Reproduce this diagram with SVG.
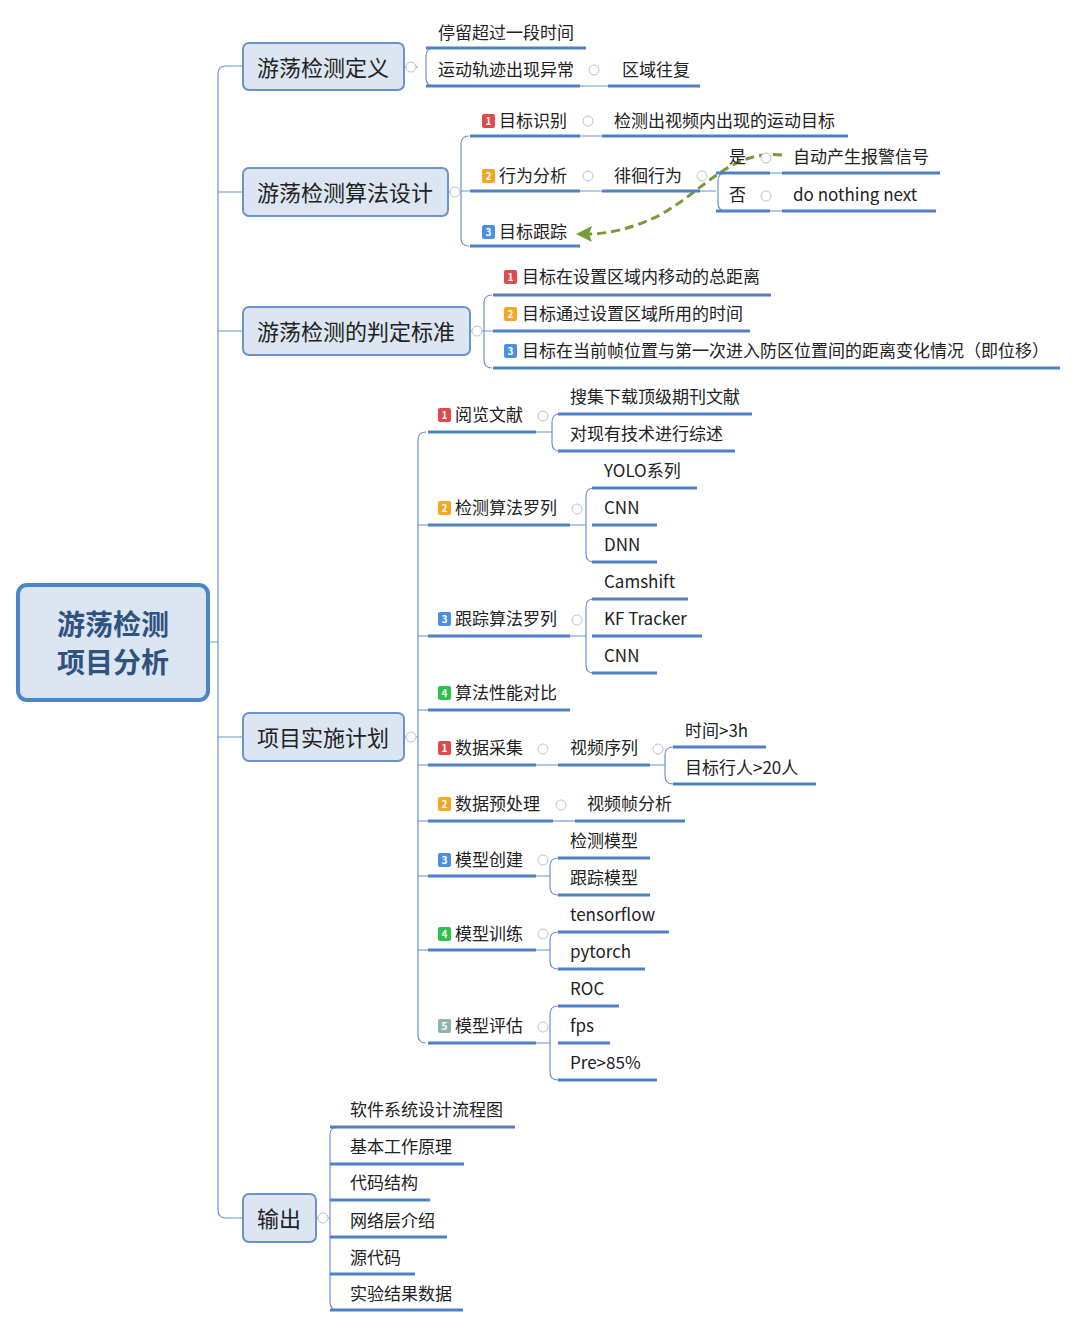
<svg xmlns="http://www.w3.org/2000/svg" width="1078" height="1328" viewBox="0 0 1078 1328">
<style>
text{font-family:"Noto Sans CJK SC","Liberation Sans",sans-serif;fill:#222;font-size:17px}
.m{font-size:22px;fill:#222}
.r{font-size:28px;font-weight:bold;fill:#2f5280}
.ul{stroke:#4d80c4;stroke-width:3;fill:none}
.ln{stroke:#6a93c9;stroke-width:1.2;fill:none}
.box{fill:#dce6f2;stroke:#6a93c9;stroke-width:2}
.c{fill:#fff;stroke:#b8c4d0;stroke-width:1}
.b text{font-size:10px;fill:#fff;font-weight:bold;text-anchor:middle}
</style>
<g id="connectors">
<path class="ln" d="M208,642 H218 M226,66 Q218,66 218,74 V1210 Q218,1218 226,1218 H243 M218,192 H243 M218,331 H243 M218,737 H243 M226,66 H243"/>
<path class="ln" d="M404,67 H418 M434,48 Q426,48 426,56 V78 Q426,86 434,86 M580,86 H608"/>
<path class="ln" d="M448,192 H461 M469,136 Q461,136 461,144 V238 Q461,246 469,246 M461,191 H470 M580,136 H602 M580,191 H602 M700,191 H716 M726,173 Q718,173 718,181 V203 Q718,211 726,211 M770,173 H782 M770,211 H782"/>
<path class="ln" d="M470,331 H484 M492,295 Q484,295 484,303 V360 Q484,368 492,368 M484,331 H493"/>
<path class="ln" d="M404,737 H418 M426,432 Q418,432 418,440 V1035 Q418,1043 426,1043"/>
<path class="ln" d="M418,525 H428 M418,636 H428 M418,710 H428 M418,765 H428 M418,821 H428 M418,876 H428 M418,950 H428"/>
<path class="ln" d="M536,432 H552 M560,414 Q552,414 552,422 V443 Q552,451 560,451"/>
<path class="ln" d="M570,525 H586 M594,488 Q586,488 586,496 V554 Q586,562 594,562"/>
<path class="ln" d="M570,636 H586 M594,599 Q586,599 586,607 V665 Q586,673 594,673"/>
<path class="ln" d="M536,765 H558 M650,765 H665 M673,747 Q665,747 665,755 V776 Q665,784 673,784"/>
<path class="ln" d="M553,821 H575"/>
<path class="ln" d="M536,876 H550 M558,858 Q550,858 550,866 V887 Q550,895 558,895"/>
<path class="ln" d="M536,950 H550 M558,932 Q550,932 550,940 V961 Q550,969 558,969"/>
<path class="ln" d="M536,1043 H550 M558,1006 Q550,1006 550,1014 V1072 Q550,1080 558,1080"/>
<path class="ln" d="M316,1218 H330 M338,1127 Q330,1127 330,1135 V1302 Q330,1310 338,1310"/>
<path d="M782,155 C730,150 705,190 660,215 C630,230 605,234 588,234" fill="none" stroke="#7a9a3a" stroke-width="3" stroke-dasharray="9,5"/>
<path d="M576,234 L592,226 L589,234 L592,242 Z" fill="#7a9a3a"/>
</g>
<g id="root"><rect x="18" y="585" width="190" height="115" rx="9" fill="#dce6f2" stroke="#4a86c8" stroke-width="4"/><text class="r" x="113" y="635" text-anchor="middle">游荡检测</text><text class="r" x="113" y="673" text-anchor="middle">项目分析</text></g>
<g id="n1"><rect class="box" x="243" y="43" width="161" height="47" rx="6"/><text class="m" x="323" y="76" text-anchor="middle">游荡检测定义</text><circle class="c" cx="411" cy="67" r="5"/></g>
<g id="n2"><rect class="box" x="243" y="168" width="205" height="48" rx="6"/><text class="m" x="345" y="201" text-anchor="middle">游荡检测算法设计</text><circle class="c" cx="455" cy="192" r="5"/></g>
<g id="n3"><rect class="box" x="243" y="307" width="227" height="48" rx="6"/><text class="m" x="356" y="340" text-anchor="middle">游荡检测的判定标准</text><circle class="c" cx="477" cy="331" r="5"/></g>
<g id="n4"><rect class="box" x="243" y="713" width="161" height="48" rx="6"/><text class="m" x="323" y="746" text-anchor="middle">项目实施计划</text><circle class="c" cx="411" cy="737" r="5"/></g>
<g id="n5"><rect class="box" x="243" y="1194" width="73" height="48" rx="6"/><text class="m" x="279" y="1227" text-anchor="middle">输出</text><circle class="c" cx="323" cy="1218" r="5"/></g>
<g id="leaves">
<text x="438" y="39">停留超过一段时间</text><path class="ul" d="M426,48 H586"/>
<text x="438" y="76">运动轨迹出现异常</text><path class="ul" d="M426,86 H580"/><circle class="c" cx="594" cy="70" r="5"/>
<text x="622" y="76">区域往复</text><path class="ul" d="M608,86 H700"/>
<text x="499" y="127">目标识别</text><path class="ul" d="M470,136 H580"/><circle class="c" cx="588" cy="121" r="5"/>
<text x="614" y="127">检测出视频内出现的运动目标</text><path class="ul" d="M602,136 H848"/>
<text x="499" y="182">行为分析</text><path class="ul" d="M470,191 H580"/><circle class="c" cx="588" cy="176" r="5"/>
<text x="614" y="182">徘徊行为</text><path class="ul" d="M602,191 H700"/><circle class="c" cx="702" cy="176" r="5"/>
<text x="729" y="163">是</text><path class="ul" d="M716,173 H770"/><circle class="c" cx="766" cy="158" r="5"/>
<text x="793" y="163">自动产生报警信号</text><path class="ul" d="M782,173 H940"/>
<text x="729" y="201">否</text><path class="ul" d="M716,211 H770"/><circle class="c" cx="766" cy="196" r="5"/>
<text x="793" y="201">do nothing next</text><path class="ul" d="M782,211 H936"/>
<text x="499" y="238">目标跟踪</text><path class="ul" d="M470,246 H580"/>
<text x="522" y="283">目标在设置区域内移动的总距离</text><path class="ul" d="M493,295 H771"/>
<text x="522" y="320">目标通过设置区域所用的时间</text><path class="ul" d="M493,331 H750"/>
<text x="522" y="357">目标在当前帧位置与第一次进入防区位置间的距离变化情况（即位移）</text><path class="ul" d="M493,368 H1060"/>
<text x="455" y="421">阅览文献</text><path class="ul" d="M428,432 H536"/><circle class="c" cx="543" cy="416" r="5"/>
<text x="570" y="403">搜集下载顶级期刊文献</text><path class="ul" d="M558,414 H752"/>
<text x="570" y="440">对现有技术进行综述</text><path class="ul" d="M558,451 H735"/>
<text x="455" y="514">检测算法罗列</text><path class="ul" d="M428,525 H570"/><circle class="c" cx="577" cy="509" r="5"/>
<text x="604" y="477">YOLO系列</text><path class="ul" d="M592,488 H697"/>
<text x="604" y="514">CNN</text><path class="ul" d="M592,525 H657"/>
<text x="604" y="551">DNN</text><path class="ul" d="M592,562 H657"/>
<text x="455" y="625">跟踪算法罗列</text><path class="ul" d="M428,636 H570"/><circle class="c" cx="577" cy="620" r="5"/>
<text x="604" y="588">Camshift</text><path class="ul" d="M592,599 H688"/>
<text x="604" y="625">KF Tracker</text><path class="ul" d="M592,636 H702"/>
<text x="604" y="662">CNN</text><path class="ul" d="M592,673 H657"/>
<text x="455" y="699">算法性能对比</text><path class="ul" d="M428,710 H570"/>
<text x="455" y="754">数据采集</text><path class="ul" d="M428,765 H536"/><circle class="c" cx="543" cy="749" r="5"/>
<text x="570" y="754">视频序列</text><path class="ul" d="M558,765 H650"/><circle class="c" cx="658" cy="749" r="5"/>
<text x="685" y="737">时间&gt;3h</text><path class="ul" d="M673,747 H766"/>
<text x="685" y="774">目标行人&gt;20人</text><path class="ul" d="M673,784 H816"/>
<text x="455" y="810">数据预处理</text><path class="ul" d="M428,821 H553"/><circle class="c" cx="561" cy="805" r="5"/>
<text x="587" y="810">视频帧分析</text><path class="ul" d="M575,821 H685"/>
<text x="455" y="866">模型创建</text><path class="ul" d="M428,876 H536"/><circle class="c" cx="543" cy="860" r="5"/>
<text x="570" y="847">检测模型</text><path class="ul" d="M558,858 H650"/>
<text x="570" y="884">跟踪模型</text><path class="ul" d="M558,895 H650"/>
<text x="455" y="940">模型训练</text><path class="ul" d="M428,950 H536"/><circle class="c" cx="543" cy="934" r="5"/>
<text x="570" y="921">tensorflow</text><path class="ul" d="M558,932 H669"/>
<text x="570" y="958">pytorch</text><path class="ul" d="M558,969 H645"/>
<text x="455" y="1032">模型评估</text><path class="ul" d="M428,1043 H536"/><circle class="c" cx="543" cy="1027" r="5"/>
<text x="570" y="995">ROC</text><path class="ul" d="M558,1006 H619"/>
<text x="570" y="1032">fps</text><path class="ul" d="M558,1043 H610"/>
<text x="570" y="1069">Pre&gt;85%</text><path class="ul" d="M558,1080 H657"/>
<text x="350" y="1116">软件系统设计流程图</text><path class="ul" d="M330,1127 H515"/>
<text x="350" y="1153">基本工作原理</text><path class="ul" d="M330,1164 H464"/>
<text x="350" y="1189">代码结构</text><path class="ul" d="M330,1200 H430"/>
<text x="350" y="1227">网络层介绍</text><path class="ul" d="M330,1237 H447"/>
<text x="350" y="1264">源代码</text><path class="ul" d="M330,1274 H415"/>
<text x="350" y="1300">实验结果数据</text><path class="ul" d="M330,1310 H463"/>
</g>
<g id="badges" class="b">
<rect x="482" y="114" width="13" height="14" rx="2" fill="#e04a4a"/><text x="488.5" y="125">1</text>
<rect x="482" y="169" width="13" height="14" rx="2" fill="#f5a623"/><text x="488.5" y="180">2</text>
<rect x="482" y="225" width="13" height="14" rx="2" fill="#4a8fe0"/><text x="488.5" y="236">3</text>
<rect x="504" y="270" width="13" height="14" rx="2" fill="#e04a4a"/><text x="510.5" y="281">1</text>
<rect x="504" y="307" width="13" height="14" rx="2" fill="#f5a623"/><text x="510.5" y="318">2</text>
<rect x="504" y="344" width="13" height="14" rx="2" fill="#4a8fe0"/><text x="510.5" y="355">3</text>
<rect x="438" y="408" width="13" height="14" rx="2" fill="#e04a4a"/><text x="444.5" y="419">1</text>
<rect x="438" y="501" width="13" height="14" rx="2" fill="#f5a623"/><text x="444.5" y="512">2</text>
<rect x="438" y="612" width="13" height="14" rx="2" fill="#4a8fe0"/><text x="444.5" y="623">3</text>
<rect x="438" y="686" width="13" height="14" rx="2" fill="#2ec24a"/><text x="444.5" y="697">4</text>
<rect x="438" y="741" width="13" height="14" rx="2" fill="#e04a4a"/><text x="444.5" y="752">1</text>
<rect x="438" y="797" width="13" height="14" rx="2" fill="#f5a623"/><text x="444.5" y="808">2</text>
<rect x="438" y="853" width="13" height="14" rx="2" fill="#4a8fe0"/><text x="444.5" y="864">3</text>
<rect x="438" y="927" width="13" height="14" rx="2" fill="#2ec24a"/><text x="444.5" y="938">4</text>
<rect x="438" y="1019" width="13" height="14" rx="2" fill="#8fb3b0"/><text x="444.5" y="1030">5</text>
</g>
</svg>
